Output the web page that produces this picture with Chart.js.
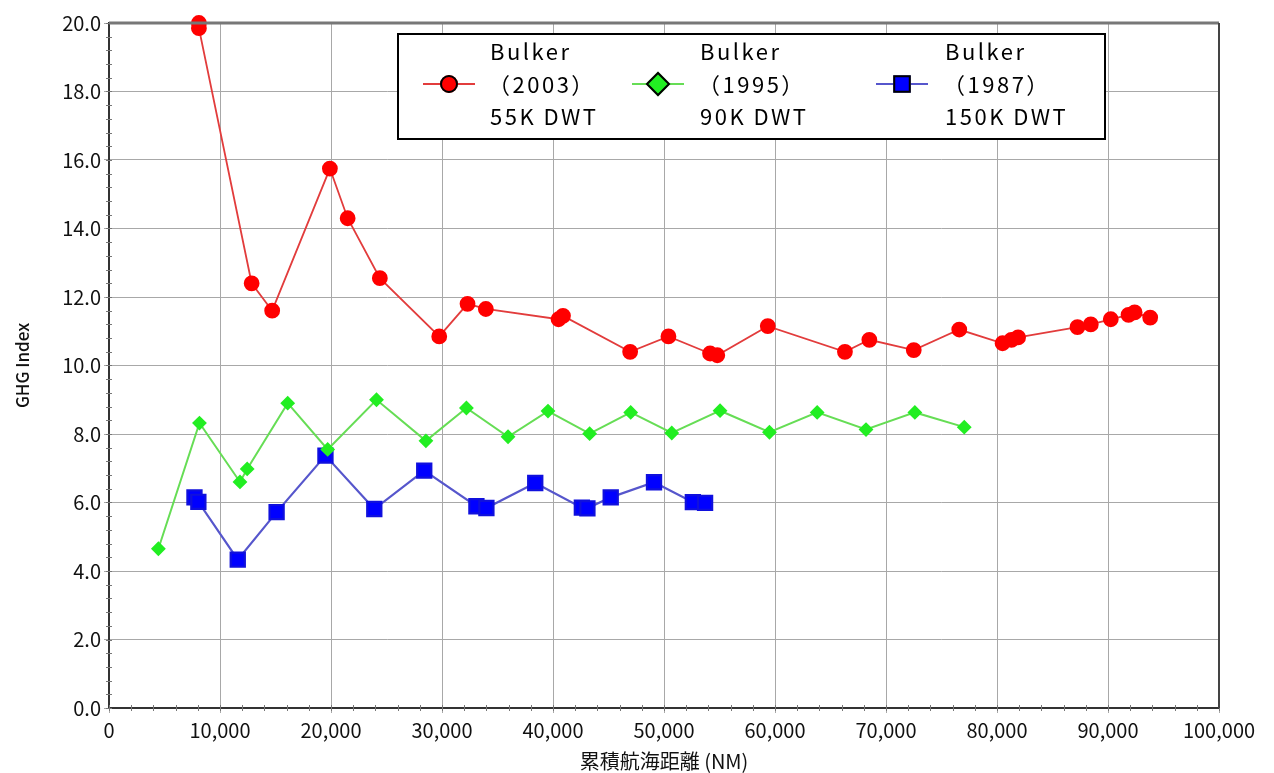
<!DOCTYPE html>
<html>
<head>
<meta charset="utf-8">
<script src="https://cdn.jsdelivr.net/npm/chart.js@4"></script>
<style>
  body { margin: 0; background: #fff; }
  #wrap { width: 1274px; height: 773px; }
</style>
</head>
<body>
<div id="wrap"><canvas id="ghgChart" width="1274" height="773"></canvas></div>
<script>
// 2003 55K DWT
const x2003 = [8100, 8100, 12850, 14700, 19900, 21500, 24400, 29750, 32300, 33950, 40500, 40900, 46950, 50400, 54150, 54800, 59350, 66300, 68500, 72500, 76600, 80500, 81300, 81900, 87250, 88450, 90250, 91850, 92400, 93800];
const y2003 = [20.0, 19.85, 12.4, 11.6, 15.75, 14.3, 12.55, 10.85, 11.8, 11.65, 11.35, 11.45, 10.4, 10.85, 10.35, 10.3, 11.15, 10.4, 10.75, 10.45, 11.05, 10.65, 10.75, 10.82, 11.12, 11.2, 11.35, 11.48, 11.55, 11.4];

// 1995 90K DWT
const x1995 = [4450, 8150, 11800, 12450, 16100, 19700, 24100, 28550, 32200, 35950, 39550, 43300, 47000, 50700, 55050, 59500, 63800, 68200, 72600, 77050];
const y1995 = [4.65, 8.32, 6.6, 6.98, 8.9, 7.55, 9.0, 7.8, 8.76, 7.92, 8.67, 8.01, 8.63, 8.03, 8.68, 8.05, 8.63, 8.13, 8.63, 8.2];

// 1987 150K DWT
const x1987 = [7700, 8050, 11600, 15100, 19500, 23900, 28400, 33100, 34000, 38400, 42600, 43100, 45200, 49100, 52600, 53700];
const y1987 = [6.15, 6.02, 4.33, 5.72, 7.37, 5.81, 6.93, 5.89, 5.84, 6.57, 5.85, 5.83, 6.15, 6.59, 6.01, 5.99];

// 범례 텍스트
const legendLines = [
    ['Bulker', '（2003）', '55K DWT'],
    ['Bulker', '（1995）', '90K DWT'],
    ['Bulker', '（1987）', '150K DWT']
];

const tickFont = "'Noto Sans CJK JP', 'DejaVu Sans', sans-serif";

function toPoints(xs, ys) {
    const pts = [];
    for (let i = 0; i < xs.length; i++) {
        pts.push({ x: xs[i], y: ys[i] });
    }
    return pts;
}

// 프레임, 보조 눈금
const framePlugin = {
    id: 'frame',
    afterDatasetsDraw(chart) {
        const { ctx, chartArea: a, scales } = chart;
        ctx.save();
        // minor ticks
        ctx.strokeStyle = '#777';
        ctx.lineWidth = 1;
        for (let v = 0; v <= 20.001; v += 0.4) {
            const y = Math.round(scales.y.getPixelForValue(v)) + 0.5;
            ctx.beginPath();
            ctx.moveTo(a.left - 3, y);
            ctx.lineTo(a.left + 3, y);
            ctx.stroke();
        }
        for (let v = 0; v <= 100000; v += 2000) {
            const x = Math.round(scales.x.getPixelForValue(v)) + 0.5;
            ctx.beginPath();
            ctx.moveTo(x, a.bottom - 3);
            ctx.lineTo(x, a.bottom + 3);
            ctx.stroke();
        }
        // top / right border
        ctx.strokeStyle = '#777';
        ctx.lineWidth = 3;
        ctx.beginPath();
        ctx.moveTo(a.left, a.top);
        ctx.lineTo(a.right, a.top);
        ctx.stroke();
        ctx.strokeStyle = '#444';
        ctx.lineWidth = 2;
        ctx.beginPath();
        ctx.moveTo(a.right, a.top);
        ctx.lineTo(a.right, a.bottom);
        ctx.stroke();
        ctx.restore();
    }
};

// 범례 직접 그리기
const legendPlugin = {
    id: 'boxLegend',
    afterDraw(chart) {
        const ctx = chart.ctx;
        const box = { x: 398, y: 34, w: 707, h: 105 };
        ctx.save();
        ctx.fillStyle = '#fff';
        ctx.fillRect(box.x, box.y, box.w, box.h);
        ctx.strokeStyle = '#000';
        ctx.lineWidth = 2;
        ctx.strokeRect(box.x, box.y, box.w, box.h);

        const sampleX = [449, 658, 902];
        const textX = [490, 700, 945];
        const midY = 84;
        chart.data.datasets.forEach((ds, i) => {
            ctx.strokeStyle = ds.borderColor;
            ctx.lineWidth = 2;
            ctx.beginPath();
            ctx.moveTo(sampleX[i] - 26, midY);
            ctx.lineTo(sampleX[i] + 26, midY);
            ctx.stroke();
            Chart.helpers.drawPoint(ctx, {
                pointStyle: ds.pointStyle,
                radius: ds.legendRadius,
                borderWidth: 1
            }, sampleX[i], midY);
            ctx.fillStyle = ds.pointBackgroundColor;
            ctx.strokeStyle = '#000';
            ctx.fill();
            ctx.stroke();

            ctx.fillStyle = '#000';
            ctx.font = "22px " + tickFont;
            ctx.letterSpacing = '2.5px';
            ctx.textBaseline = 'middle';
            ctx.textAlign = 'left';
            const lines = legendLines[i];
            ctx.fillText(lines[0], textX[i], 52);
            ctx.fillText(lines[1], textX[i] - 2, 85);
            ctx.fillText(lines[2], textX[i], 117);
            ctx.letterSpacing = '0px';
        });
        ctx.restore();
    }
};

const ctx = document.getElementById('ghgChart');

new Chart(ctx, {
    type: 'line',
    data: {
        datasets: [{
            label: 'Bulker (2003) 55K DWT',
            data: toPoints(x2003, y2003),
            borderColor: '#e23c3c',
            borderWidth: 1.8,
            backgroundColor: '#ff0000',
            pointBackgroundColor: '#ff0000',
            pointBorderColor: '#ff0000',
            pointStyle: 'circle',
            pointRadius: 7,
            legendRadius: 8,
            tension: 0,
            clip: 12
        }, {
            label: 'Bulker (1995) 90K DWT',
            data: toPoints(x1995, y1995),
            borderColor: '#66dd55',
            borderWidth: 2,
            backgroundColor: '#22ee22',
            pointBackgroundColor: '#22ee22',
            pointBorderColor: '#22ee22',
            pointStyle: 'rectRot',
            pointRadius: 6,
            legendRadius: 11,
            tension: 0,
            clip: 12
        }, {
            label: 'Bulker (1987) 150K DWT',
            data: toPoints(x1987, y1987),
            borderColor: '#5656cc',
            borderWidth: 2.2,
            backgroundColor: '#0000ff',
            pointBackgroundColor: '#0000ff',
            pointBorderColor: '#1010dd',
            pointStyle: 'rect',
            pointRadius: 10,
            legendRadius: 11,
            tension: 0,
            clip: 12
        }]
    },
    options: {
        responsive: false,
        animation: false,
        layout: {
            padding: { top: 23, right: 55, left: 0, bottom: 0 }
        },
        plugins: {
            legend: { display: false },
            tooltip: { enabled: false }
        },
        scales: {
            x: {
                type: 'linear',
                min: 0,
                max: 100000,
                ticks: {
                    stepSize: 10000,
                    color: '#111',
                    font: { family: tickFont, size: 20 },
                    padding: 5,
                    maxRotation: 0,
                    callback: v => v.toLocaleString('en-US')
                },
                grid: { color: '#a8a8a8', lineWidth: 1, tickLength: 5 },
                border: { color: '#333', width: 2 },
                title: {
                    display: true,
                    text: '累積航海距離 (NM)',
                    color: '#111',
                    font: { family: tickFont, size: 20 },
                    padding: { top: 0, bottom: 0 }
                },
                afterFit(scale) { scale.height = 65; }
            },
            y: {
                min: 0,
                max: 20,
                ticks: {
                    stepSize: 2,
                    color: '#111',
                    font: { family: tickFont, size: 20 },
                    padding: 3,
                    callback: v => v.toFixed(1)
                },
                grid: { color: '#a8a8a8', lineWidth: 1, tickLength: 5 },
                border: { color: '#333', width: 2 },
                title: {
                    display: true,
                    text: 'GHG Index',
                    color: '#111',
                    font: { family: tickFont, size: 17, weight: '500' },
                    padding: { top: 12, bottom: 4 }
                },
                afterFit(scale) { scale.width = 109; }
            }
        }
    },
    plugins: [framePlugin, legendPlugin]
});
</script>
</body>
</html>
